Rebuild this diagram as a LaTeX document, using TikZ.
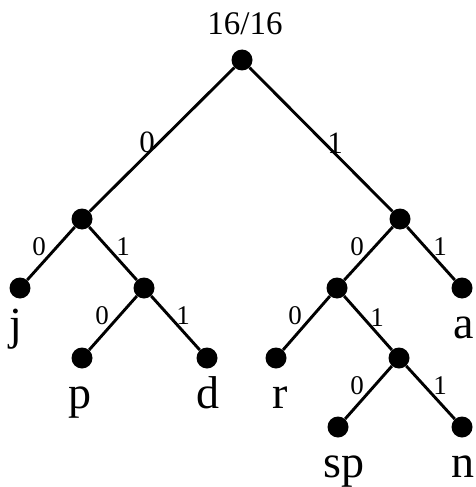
\documentclass[tikz,border=0pt]{standalone}
\usepackage{fontspec}
\setmainfont{Liberation Serif}
\begin{document}
\begin{tikzpicture}[x=1pt,y=-1pt,
  vertex/.style={circle,fill=black,inner sep=0pt,minimum size=21pt},
  edge/.style={line width=2.9pt},
  bit/.style={font=\fontsize{27}{27}\selectfont,inner sep=0pt},
  bigbit/.style={font=\fontsize{31}{31}\selectfont,inner sep=0pt},
  weight/.style={font=\fontsize{33}{33}\selectfont,inner sep=0pt,anchor=base},
  leaf/.style={font=\fontsize{46}{46}\selectfont,inner sep=0pt,anchor=base}]
\useasboundingbox (0,0) rectangle (476,487);

% tree vertices
\node[vertex] (root) at (242,60) {};
\node[vertex] (l)    at (82,219) {};
\node[vertex] (r)    at (400,219) {};
\node[vertex] (ll)   at (20,288) {};
\node[vertex] (lr)   at (144,288) {};
\node[vertex] (lrl)  at (82,358) {};
\node[vertex] (lrr)  at (207,358) {};
\node[vertex] (rl)   at (337,288) {};
\node[vertex] (rr)   at (462,288) {};
\node[vertex] (rll)  at (276,358) {};
\node[vertex] (rlr)  at (399,358) {};
\node[vertex] (rlrl) at (338,427) {};
\node[vertex] (rlrr) at (462,427) {};

% branches
\draw[edge] (root) -- (l);
\draw[edge] (root) -- (r);
\draw[edge] (l) -- (ll);
\draw[edge] (l) -- (lr);
\draw[edge] (lr) -- (lrl);
\draw[edge] (lr) -- (lrr);
\draw[edge] (r) -- (rl);
\draw[edge] (r) -- (rr);
\draw[edge] (rl) -- (rll);
\draw[edge] (rl) -- (rlr);
\draw[edge] (rlr) -- (rlrl);
\draw[edge] (rlr) -- (rlrr);

% branch bits
\node[bigbit] (b1)  at (147,142) {0};
\node[bigbit] (b2)  at (335,143) {1};
\node[bit]    (b3)  at (39,247)  {0};
\node[bit]    (b4)  at (123,247) {1};
\node[bit]    (b5)  at (102,316) {0};
\node[bit]    (b6)  at (183,316) {1};
\node[bit]    (b7)  at (357,247) {0};
\node[bit]    (b8)  at (440,247) {1};
\node[bit]    (b9)  at (295,316) {0};
\node[bit]    (b10) at (377,318) {1};
\node[bit]    (b11) at (357,386) {0};
\node[bit]    (b12) at (440,386) {1};

% symbols and root weight
\node[weight] (tot) at (245,35)  {16/16};
\node[leaf] (tj)  at (16,339)  {j};
\node[leaf] (ta)  at (464,338) {a};
\node[leaf] (tp)  at (80,408)  {p};
\node[leaf] (td)  at (208,408) {d};
\node[leaf] (tr)  at (280,408) {r};
\node[leaf] (tsp) at (344,477) {sp};
\node[leaf] (tn)  at (463,477) {n};
\end{tikzpicture}
\end{document}
